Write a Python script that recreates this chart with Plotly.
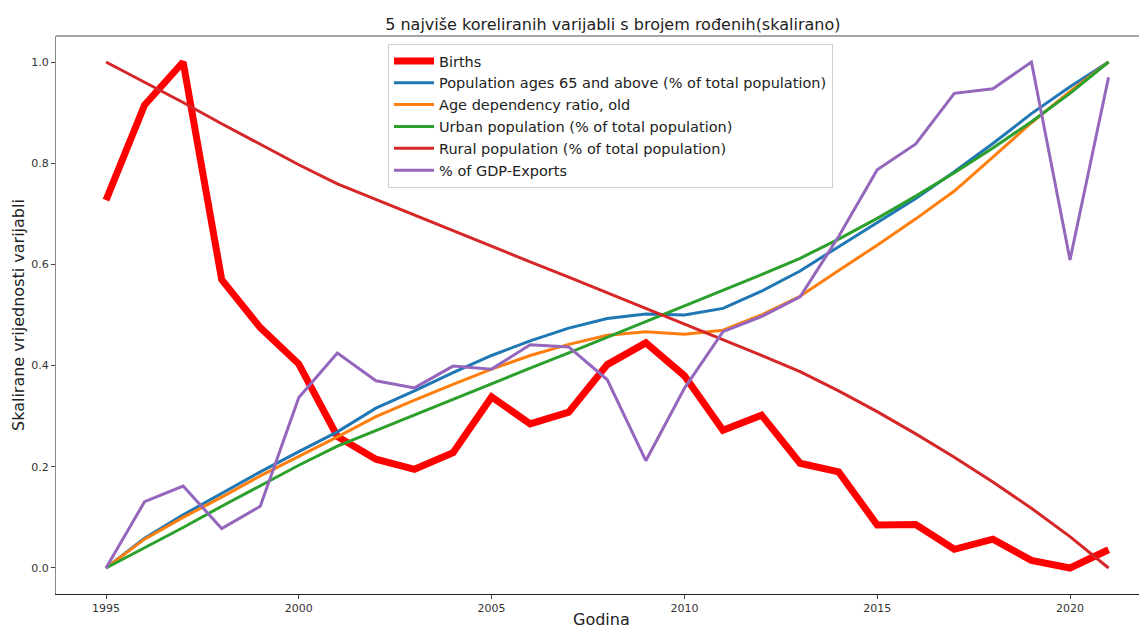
import plotly.graph_objects as go

years = list(range(1995, 2022))

births = [0.727, 0.915, 1.0, 0.57, 0.475, 0.403, 0.26, 0.215, 0.195, 0.228,
          0.338, 0.285, 0.308, 0.402, 0.445, 0.38, 0.272, 0.302, 0.207, 0.19,
          0.085, 0.086, 0.037, 0.057, 0.015, 0.0, 0.036]

pop65 = [0.0, 0.059, 0.105, 0.148, 0.19, 0.23, 0.269, 0.316, 0.35, 0.386,
         0.42, 0.449, 0.474, 0.493, 0.502, 0.5, 0.513, 0.547, 0.587, 0.635,
         0.682, 0.73, 0.783, 0.839, 0.898, 0.951, 1.0]

age_dep = [0.0, 0.057, 0.1, 0.14, 0.182, 0.22, 0.259, 0.299, 0.332, 0.363,
           0.393, 0.42, 0.442, 0.46, 0.467, 0.462, 0.47, 0.5, 0.537, 0.588,
           0.638, 0.69, 0.745, 0.812, 0.88, 0.942, 1.0]

urban = [0.0, 0.04, 0.08, 0.122, 0.162, 0.203, 0.241, 0.272, 0.303, 0.333,
         0.364, 0.395, 0.425, 0.456, 0.487, 0.518, 0.548, 0.58, 0.612, 0.65,
         0.691, 0.735, 0.781, 0.83, 0.882, 0.938, 1.0]

rural = [1.0, 0.96, 0.92, 0.878, 0.838, 0.797, 0.759, 0.728, 0.697, 0.667,
         0.636, 0.605, 0.575, 0.544, 0.513, 0.482, 0.452, 0.42, 0.388, 0.35,
         0.309, 0.265, 0.219, 0.17, 0.118, 0.062, 0.0]

exports = [0.0, 0.131, 0.162, 0.078, 0.122, 0.337, 0.425, 0.37, 0.356, 0.399,
           0.393, 0.441, 0.437, 0.372, 0.212, 0.355, 0.467, 0.497, 0.536, 0.655,
           0.787, 0.838, 0.938, 0.947, 1.0, 0.609, 0.97]

series = [
    ("Births", births, "#ff0000", 7),
    ("Population ages 65 and above (% of total population)", pop65, "#1f77b4", 3),
    ("Age dependency ratio, old", age_dep, "#ff7f0e", 3),
    ("Urban population (% of total population)", urban, "#2ca02c", 3),
    ("Rural population (% of total population)", rural, "#d62728", 3),
    ("% of GDP-Exports", exports, "#9467bd", 3),
]

fig = go.Figure()
for name, vals, color, w in series:
    fig.add_trace(go.Scatter(x=years, y=vals, mode="lines", name=name,
                             line=dict(color=color, width=w)))

font_family = "DejaVu Sans, sans-serif"

# page body has an 8px margin, so the figure is sized to fit the window from (8, 8)
fig.update_layout(
    width=1139, height=620,
    margin=dict(l=48, r=0, t=28, b=34, autoexpand=False),
    paper_bgcolor="white", plot_bgcolor="white",
    font=dict(family=font_family, color="#222"),
    title=dict(text="5 najviše koreliranih varijabli s brojem rođenih(skalirano)",
               x=0.531, xanchor="center", y=0.974, yanchor="middle",
               font=dict(size=16, color="#222")),
    showlegend=True,
    legend=dict(x=0.3043, xanchor="left", y=0.9857, yanchor="top",
                bgcolor="rgba(255,255,255,0.85)", bordercolor="#d0d0d0", borderwidth=1,
                font=dict(size=14.5, color="#222"), tracegroupgap=0,
                itemwidth=40),
    xaxis=dict(range=[1993.703, 2021.997], tickvals=[1995, 2000, 2005, 2010, 2015, 2020],
               automargin=False,
               showgrid=False, zeroline=False, showline=True, linecolor="#222", linewidth=1.2,
               ticks="outside", ticklen=4, tickcolor="#444", tickfont=dict(size=11, color="#333"),
               title=dict(text="")),
    yaxis=dict(range=[-0.0514, 1.0514], tickvals=[0, 0.2, 0.4, 0.6, 0.8, 1.0],
               tickformat=".1f", automargin=False,
               showgrid=False, zeroline=False, showline=True, linecolor="#888", linewidth=1.2,
               ticks="outside", ticklen=4, tickcolor="#444", tickfont=dict(size=11, color="#333"),
               title=dict(text="")),
    shapes=[dict(type="line", xref="paper", yref="paper", x0=0, x1=1, y0=1, y1=1,
                 line=dict(color="#888", width=1.5))],
    annotations=[
        dict(text="Godina", xref="paper", yref="paper", x=0.5, y=-25 / 558,
             xanchor="center", yanchor="middle", showarrow=False,
             font=dict(size=16, color="#222")),
        dict(text="Skalirane vrijednosti varijabli", xref="paper", yref="paper",
             x=-38 / 1091, y=0.5, xanchor="center", yanchor="middle", textangle=-90,
             showarrow=False, font=dict(size=16, color="#222")),
    ],
)

fig.write_html("out.html")
